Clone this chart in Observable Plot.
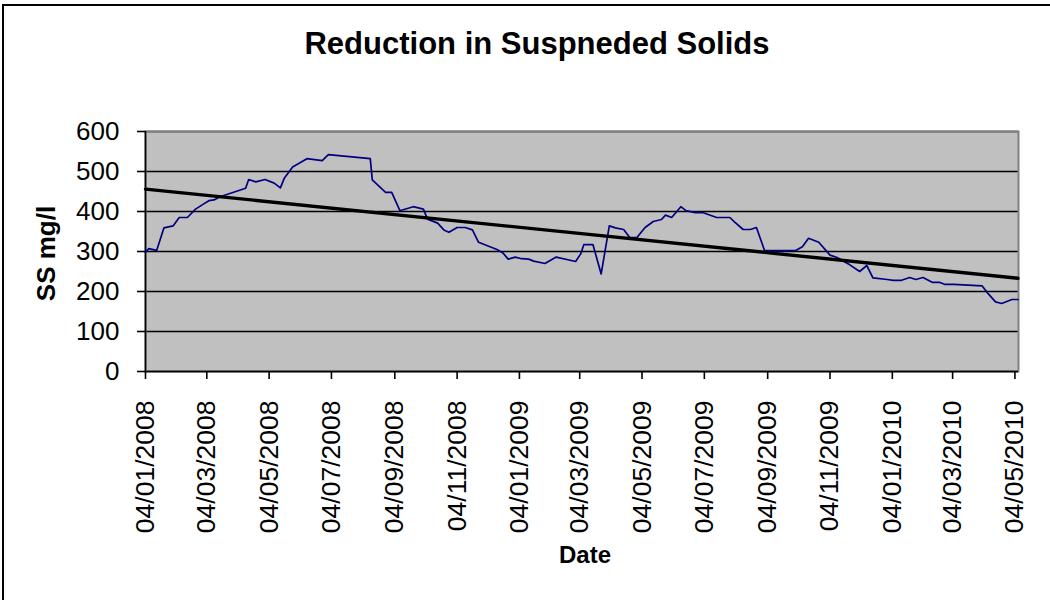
<!DOCTYPE html>
<html>
<head>
<meta charset="utf-8">
<script src="https://cdn.jsdelivr.net/npm/d3@7"></script>
<script src="https://cdn.jsdelivr.net/npm/@observablehq/plot@0.6"></script>
<style>
  html, body { margin: 0; padding: 0; background: #fff; overflow: hidden; }
  #wrap { position: relative; width: 1050px; height: 600px; overflow: hidden; }
  #border { position: absolute; left: 2px; top: 4px; width: 2000px; height: 2000px; border: 2px solid #000; box-sizing: border-box; }
  #chart { position: absolute; left: 0; top: 0; }
</style>
</head>
<body>
<div id="wrap"><div id="border"></div><div id="chart"></div></div>
<script>
const titleText = "Reduction in Suspneded Solids";
const yLabelText = "SS mg/l";
const xLabelText = "Date";

const dates = [
  "2008-01-04","2008-01-07","2008-01-15","2008-01-22","2008-01-31","2008-02-06","2008-02-14","2008-02-22",
  "2008-03-01","2008-03-06","2008-03-11","2008-03-17","2008-04-11","2008-04-14","2008-04-21","2008-04-30",
  "2008-05-09","2008-05-15","2008-05-19","2008-05-27","2008-06-10","2008-06-25","2008-07-01","2008-08-11",
  "2008-08-13","2008-08-26","2008-09-01","2008-09-09","2008-09-22","2008-10-02","2008-10-06","2008-10-16",
  "2008-10-22","2008-10-27","2008-11-04","2008-11-12","2008-11-19","2008-11-25","2008-12-13","2008-12-19",
  "2008-12-24","2008-12-31","2009-01-06","2009-01-13","2009-01-18","2009-01-29","2009-02-09","2009-02-28",
  "2009-03-05","2009-03-08","2009-03-17","2009-03-25","2009-04-02","2009-04-08","2009-04-16","2009-04-22",
  "2009-04-29","2009-05-07","2009-05-15","2009-05-23","2009-05-27","2009-06-02","2009-06-11","2009-06-16",
  "2009-06-25","2009-07-03","2009-07-16","2009-07-29","2009-08-03","2009-08-11","2009-08-18","2009-08-24",
  "2009-09-01","2009-10-01","2009-10-08","2009-10-14","2009-10-24","2009-11-04","2009-11-11","2009-11-22",
  "2009-12-03","2009-12-10","2009-12-16","2009-12-30","2010-01-05","2010-01-13","2010-01-21","2010-01-27",
  "2010-02-03","2010-02-12","2010-02-19","2010-02-24","2010-03-05","2010-04-02","2010-04-08","2010-04-15",
  "2010-04-21","2010-05-01","2010-05-07"
];
const ssValues = [
  298,307,303,359,364,385,385,406,
  419,427,429,437,458,480,474,480,
  471,459,484,511,532,527,542,532,
  479,448,448,402,412,406,381,371,
  354,348,360,360,354,323,305,296,
  281,286,282,281,276,270,286,275,
  294,317,317,244,364,359,355,335,
  335,360,375,380,391,385,412,402,
  397,397,385,385,373,355,355,360,
  302,302,312,333,323,291,285,269,
  250,265,234,230,228,228,235,230,
  235,223,223,218,218,214,194,174,
  170,180,180
];
const trendDates = ["2008-01-04","2010-05-07"];
const trendValues = [456,233];
const xTickDates = [
  "2008-01-04","2008-03-04","2008-05-04","2008-07-04","2008-09-04","2008-11-04",
  "2009-01-04","2009-03-04","2009-05-04","2009-07-04","2009-09-04","2009-11-04",
  "2010-01-04","2010-03-04","2010-05-04"
];
const yTicks = [0,100,200,300,400,500,600];
const xDomainDates = ["2008-01-04","2010-05-07T12:00"];

const parse = s => new Date(s.length > 10 ? s + "Z" : s + "T00:00Z");
const data = dates.map((d, i) => ({date: parse(d), ss: ssValues[i]}));
const trend = trendDates.map((d, i) => ({date: parse(d), ss: trendValues[i]}));
const xTicks = xTickDates.map(parse);
const xDomain = xDomainDates.map(parse);

const chart = Plot.plot({
  width: 1050,
  height: 600,
  marginLeft: 145,
  marginRight: 32,
  marginTop: 131,
  marginBottom: 229,
  style: {fontFamily: "'Liberation Sans', Arial, sans-serif", color: "#000", background: "transparent", overflow: "visible"},
  x: {type: "utc", domain: xDomain},
  y: {domain: [0, 600]},
  marks: [
    Plot.frame({fill: "#c0c0c0"}),
    Plot.gridY(yTicks, {stroke: "#000", strokeOpacity: 1, strokeWidth: 1.6}),
    Plot.frame({stroke: "#808080", strokeWidth: 2}),
    Plot.ruleX([xDomain[0]], {stroke: "#000", strokeWidth: 1.6}),
    Plot.ruleY([0], {stroke: "#000", strokeWidth: 1.6}),
    Plot.axisY({ticks: yTicks, tickSize: 8, tickPadding: 18, fontSize: 26, label: null, stroke: "#000", strokeWidth: 1.6}),
    Plot.axisX({ticks: xTicks, tickFormat: d3.utcFormat("%d/%m/%Y"), tickRotate: -90, tickSize: 8, tickPadding: 21, fontSize: 26.5, label: null, stroke: "#000", strokeWidth: 1.6}),
    Plot.line(data, {x: "date", y: "ss", stroke: "#000080", strokeWidth: 1.7}),
    Plot.line(trend, {x: "date", y: "ss", stroke: "#000", strokeWidth: 3.4}),
    Plot.text([titleText], {frameAnchor: "top", lineAnchor: "middle", textAnchor: "middle", dx: -45, dy: -87, fontSize: 31, fontWeight: "bold", fill: "#000"}),
    Plot.text([yLabelText], {frameAnchor: "left", lineAnchor: "middle", textAnchor: "middle", dx: -99, dy: 2, rotate: -90, fontSize: 26, fontWeight: "bold", fill: "#000"}),
    Plot.text([xLabelText], {frameAnchor: "bottom", lineAnchor: "middle", textAnchor: "middle", dx: 3, dy: 184, fontSize: 24, fontWeight: "bold", fill: "#000"})
  ]
});
document.getElementById("chart").appendChild(chart);
</script>
</body>
</html>
